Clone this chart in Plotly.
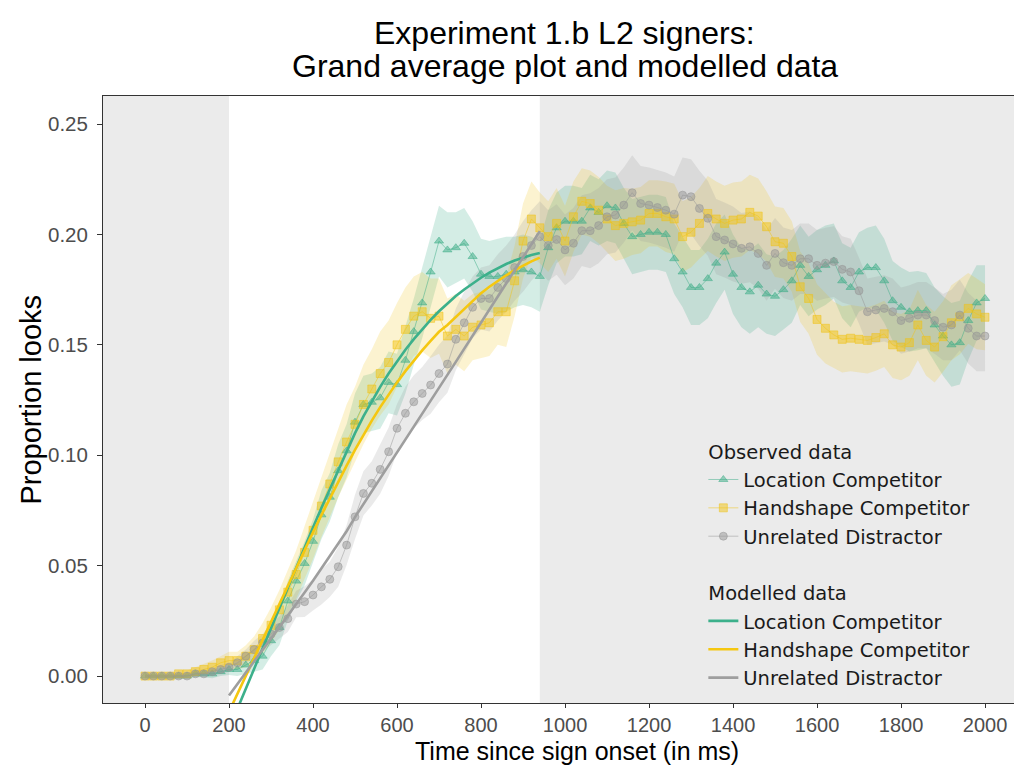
import plotly.graph_objects as go

# ---------------- data ----------------
time_ms = list(range(0, 2001, 20))

obs_location = [
    0.000, 0.000, 0.000, 0.000, 0.000, 0.000, 0.001, 0.001, 0.001, 0.002,
    0.003, 0.003, 0.005, 0.007, 0.009, 0.016, 0.022, 0.034, 0.043, 0.051,
    0.061, 0.073, 0.081, 0.093, 0.102, 0.115, 0.123, 0.124, 0.126, 0.133,
    0.132, 0.143, 0.156, 0.169, 0.183, 0.197, 0.193, 0.194, 0.196, 0.190,
    0.182, 0.181, 0.181, 0.182, 0.183, 0.184, 0.183, 0.181, 0.194, 0.203,
    0.206, 0.206, 0.206, 0.212, 0.210, 0.213, 0.212, 0.205, 0.199, 0.200,
    0.201, 0.201, 0.200, 0.189, 0.183, 0.176, 0.176, 0.180, 0.187, 0.192,
    0.182, 0.176, 0.174, 0.177, 0.173, 0.172, 0.175, 0.179, 0.186, 0.181,
    0.184, 0.186, 0.188, 0.179, 0.176, 0.183, 0.185, 0.185, 0.179, 0.170,
    0.167, 0.165, 0.1655, 0.1655, 0.159, 0.154, 0.150, 0.151, 0.161, 0.169,
    0.171,
]
obs_handshape = [
    0.000, 0.000, 0.000, 0.000, 0.001, 0.001, 0.002, 0.003, 0.004, 0.006,
    0.007, 0.007, 0.009, 0.012, 0.017, 0.023, 0.030, 0.038, 0.046, 0.056,
    0.066, 0.077, 0.087, 0.097, 0.106, 0.114, 0.123, 0.130, 0.137, 0.142,
    0.150, 0.157, 0.163, 0.165, 0.162, 0.163, 0.154, 0.157, 0.154, 0.158,
    0.159, 0.160, 0.165, 0.165, 0.179, 0.197, 0.207, 0.203, 0.199, 0.205,
    0.197, 0.208, 0.215, 0.214, 0.211, 0.207, 0.204, 0.205, 0.2057, 0.2065,
    0.2095, 0.2095, 0.208, 0.207, 0.199, 0.201, 0.205, 0.2095, 0.207, 0.205,
    0.2065, 0.207, 0.210, 0.2083, 0.2035, 0.1967, 0.196, 0.190, 0.1763, 0.171,
    0.1615, 0.1575, 0.1545, 0.1525, 0.153, 0.1525, 0.152, 0.1533, 0.155, 0.150,
    0.149, 0.151, 0.159, 0.152, 0.149, 0.1537, 0.160, 0.1627, 0.1665, 0.164,
    0.1625,
]
obs_unrelated = [
    0.000, 0.000, 0.000, 0.000, 0.000, 0.000, 0.001, 0.001, 0.002, 0.003,
    0.004, 0.006, 0.009, 0.012, 0.015, 0.019, 0.022, 0.026, 0.0326, 0.0337,
    0.0367, 0.0404, 0.0438, 0.0495, 0.0593, 0.0721, 0.0827, 0.0873, 0.0936, 0.1016,
    0.1122, 0.119, 0.1242, 0.128, 0.1318, 0.137, 0.1413, 0.1525, 0.160, 0.167,
    0.171, 0.171, 0.176, 0.180, 0.185, 0.190, 0.195, 0.199, 0.195, 0.1977,
    0.193, 0.196, 0.2017, 0.2017, 0.204, 0.208, 0.2088, 0.2133, 0.2189, 0.214,
    0.2133, 0.2122, 0.211, 0.2092, 0.2178, 0.2171, 0.2118, 0.2073, 0.199, 0.1975,
    0.1957, 0.1937, 0.1944, 0.1914, 0.186, 0.1914, 0.1872, 0.186, 0.189, 0.189,
    0.186, 0.187, 0.1877, 0.1842, 0.183, 0.1745, 0.165, 0.1658, 0.1665, 0.165,
    0.161, 0.162, 0.1635, 0.1635, 0.161, 0.158, 0.159, 0.1635, 0.1575, 0.154,
    0.154,
]

# half-widths of the confidence ribbons
ci_location = [
    0.001, 0.001, 0.001, 0.001, 0.001, 0.001, 0.0015, 0.0015, 0.002, 0.002,
    0.0025, 0.003, 0.004, 0.005, 0.006, 0.007, 0.008, 0.009, 0.009, 0.010,
    0.010, 0.011, 0.011, 0.012, 0.012, 0.013, 0.013, 0.013, 0.014, 0.014,
    0.014, 0.015, 0.015, 0.016, 0.016, 0.016, 0.017, 0.016, 0.016, 0.016,
    0.016, 0.016, 0.017, 0.017, 0.016, 0.016, 0.016, 0.016, 0.017, 0.016,
    0.016, 0.016, 0.015, 0.015, 0.015, 0.016, 0.016, 0.016, 0.017, 0.017,
    0.017, 0.017, 0.017, 0.016, 0.016, 0.017, 0.017, 0.018, 0.018, 0.017,
    0.018, 0.018, 0.019, 0.019, 0.018, 0.018, 0.018, 0.019, 0.018, 0.018,
    0.018, 0.018, 0.017, 0.017, 0.018, 0.018, 0.018, 0.019, 0.019, 0.018,
    0.018, 0.018, 0.018, 0.017, 0.017, 0.018, 0.019, 0.019, 0.018, 0.017,
    0.015,
]
ci_handshape = [
    0.001, 0.001, 0.001, 0.001, 0.0015, 0.0015, 0.002, 0.0025, 0.003, 0.003,
    0.004, 0.004, 0.005, 0.006, 0.007, 0.008, 0.009, 0.010, 0.011, 0.012,
    0.013, 0.014, 0.015, 0.016, 0.017, 0.017, 0.018, 0.018, 0.019, 0.019,
    0.019, 0.019, 0.018, 0.018, 0.018, 0.017, 0.017, 0.016, 0.016, 0.015,
    0.015, 0.015, 0.015, 0.016, 0.016, 0.017, 0.017, 0.016, 0.016, 0.016,
    0.016, 0.016, 0.015, 0.015, 0.015, 0.015, 0.016, 0.016, 0.015, 0.015,
    0.015, 0.015, 0.016, 0.016, 0.016, 0.016, 0.016, 0.017, 0.017, 0.017,
    0.017, 0.017, 0.017, 0.017, 0.016, 0.016, 0.016, 0.016, 0.016, 0.016,
    0.016, 0.016, 0.015, 0.015, 0.015, 0.015, 0.015, 0.015, 0.015, 0.015,
    0.015, 0.015, 0.016, 0.016, 0.016, 0.016, 0.017, 0.017, 0.016, 0.016,
    0.015,
]
ci_unrelated = [
    0.001, 0.001, 0.001, 0.001, 0.001, 0.001, 0.001, 0.001, 0.0015, 0.002,
    0.002, 0.003, 0.003, 0.004, 0.004, 0.005, 0.005, 0.006, 0.006, 0.007,
    0.007, 0.008, 0.008, 0.009, 0.009, 0.010, 0.010, 0.010, 0.011, 0.011,
    0.011, 0.012, 0.012, 0.012, 0.013, 0.013, 0.013, 0.014, 0.014, 0.014,
    0.014, 0.015, 0.015, 0.015, 0.015, 0.016, 0.016, 0.016, 0.016, 0.016,
    0.016, 0.016, 0.016, 0.017, 0.017, 0.017, 0.017, 0.017, 0.017, 0.017,
    0.017, 0.017, 0.017, 0.017, 0.017, 0.017, 0.017, 0.017, 0.017, 0.017,
    0.017, 0.016, 0.016, 0.016, 0.016, 0.016, 0.016, 0.016, 0.016, 0.016,
    0.016, 0.016, 0.016, 0.015, 0.015, 0.015, 0.015, 0.015, 0.015, 0.015,
    0.015, 0.015, 0.015, 0.015, 0.015, 0.015, 0.016, 0.016, 0.016, 0.016,
    0.016,
]

model_time = list(range(200, 941, 20))
model_location = [
    -0.0240, -0.0148, -0.0056, 0.0036, 0.0128, 0.0220, 0.0312, 0.0403, 0.0494, 0.0584,
    0.0673, 0.0761, 0.0847, 0.0931, 0.1012, 0.1100, 0.1176, 0.1245, 0.1310, 0.1370,
    0.1426, 0.1478, 0.1526, 0.1571, 0.1613, 0.1652, 0.1688, 0.1721, 0.1751, 0.1779,
    0.1804, 0.1827, 0.1848, 0.1866, 0.1882, 0.1896, 0.1907, 0.1916,
]
model_handshape = [
    -0.0162, -0.0080, 0.0002, 0.0084, 0.0166, 0.0248, 0.0330, 0.0411, 0.0492, 0.0572,
    0.0651, 0.0729, 0.0805, 0.0880, 0.0953, 0.1024, 0.1092, 0.1157, 0.1218, 0.1276,
    0.1330, 0.1381, 0.1429, 0.1475, 0.1518, 0.1559, 0.1590, 0.1625, 0.1660, 0.1695,
    0.1734, 0.1763, 0.1790, 0.1815, 0.1838, 0.1859, 0.1878, 0.1895,
]
model_unrelated = [
    -0.0088, -0.0035, 0.0017, 0.0068, 0.0119, 0.0170, 0.0221, 0.0273, 0.0325, 0.0378,
    0.0432, 0.0487, 0.0543, 0.0599, 0.0656, 0.0720, 0.0778, 0.0836, 0.0894, 0.0952,
    0.1010, 0.1069, 0.1128, 0.1187, 0.1246, 0.1305, 0.1364, 0.1423, 0.1482, 0.1541,
    0.1600, 0.1659, 0.1718, 0.1777, 0.1836, 0.1895, 0.1955, 0.2015,
]

series_names = ["Location Competitor", "Handshape Competitor", "Unrelated Distractor"]
window_start, window_end = 200, 940
x_ticks = list(range(0, 2001, 200))
y_ticks = [0.00, 0.05, 0.10, 0.15, 0.20, 0.25]

# ---------------- styling ----------------
FONT = "Liberation Sans, Arial, sans-serif"
LEG_FONT = "DejaVu Sans, sans-serif"
band_colors = ["rgba(61,174,136,0.22)", "rgba(242,195,20,0.20)", "rgba(150,150,150,0.20)"]
point_colors = ["rgba(61,174,136,0.5)", "rgba(242,195,20,0.5)", "rgba(150,150,150,0.5)"]
model_colors = ["#3cb08b", "#f5c710", "#9e9e9e"]
symbols = ["triangle-up", "square", "circle"]

obs = [obs_location, obs_handshape, obs_unrelated]
cis = [ci_location, ci_handshape, ci_unrelated]
models = [model_location, model_handshape, model_unrelated]

fig = go.Figure()

# ribbons
for i in range(3):
    upper = [v + h for v, h in zip(obs[i], cis[i])]
    lower = [v - h for v, h in zip(obs[i], cis[i])]
    fig.add_trace(go.Scatter(
        x=time_ms + time_ms[::-1], y=upper + lower[::-1],
        fill="toself", fillcolor=band_colors[i], line=dict(width=0),
        mode="lines", hoverinfo="skip", showlegend=False))

# observed points
for i in range(3):
    fig.add_trace(go.Scatter(
        x=time_ms, y=obs[i], mode="lines+markers", name=series_names[i],
        line=dict(color=point_colors[i], width=1),
        marker=dict(symbol=symbols[i], size=8, color=point_colors[i],
                    line=dict(width=1, color=point_colors[i])),
        legendgroup="obs",
        legendgrouptitle=dict(text="Observed data", font=dict(size=19.5, color="#1a1a1a", family=LEG_FONT)) if i == 0 else None,
    ))

# modelled lines
for i in range(3):
    fig.add_trace(go.Scatter(
        x=model_time, y=models[i], mode="lines", name=series_names[i],
        line=dict(color=model_colors[i], width=2.6),
        legendgroup="mod",
        legendgrouptitle=dict(text="Modelled data", font=dict(size=19.5, color="#1a1a1a", family=LEG_FONT)) if i == 0 else None,
    ))

# shaded regions outside analysis window
fig.add_shape(type="rect", xref="x", yref="paper", x0=-100, x1=window_start, y0=0, y1=1,
              fillcolor="#ebebeb", line=dict(width=0), layer="below")
fig.add_shape(type="rect", xref="x", yref="paper", x0=window_end, x1=2100, y0=0, y1=1,
              fillcolor="#ebebeb", line=dict(width=0), layer="below")

# title (two lines, tight spacing like the original)
fig.add_annotation(text="Experiment 1.b L2 signers:", xref="paper", yref="paper",
                   x=0.507, y=1.1038, yanchor="middle", showarrow=False,
                   font=dict(size=32, color="#000000", family=FONT))
fig.add_annotation(text="Grand average plot and modelled data", xref="paper", yref="paper",
                   x=0.507, y=1.0494, yanchor="middle", showarrow=False,
                   font=dict(size=32, color="#000000", family=FONT))
# axis titles
fig.add_annotation(text="Time since sign onset (in ms)", xref="paper", yref="paper",
                   x=0.52, y=-0.0799, yanchor="middle", showarrow=False,
                   font=dict(size=25, color="#000000", family=FONT))
fig.add_annotation(text="Proportion looks", xref="paper", yref="paper",
                   x=-0.0801, y=0.5, xanchor="center", yanchor="middle", textangle=-90,
                   showarrow=False, font=dict(size=29, color="#000000", family=FONT))

fig.update_layout(
    width=1014, height=767,
    margin=dict(l=103, r=0, t=96, b=64),
    paper_bgcolor="white", plot_bgcolor="white",
    font=dict(family=FONT, color="#1a1a1a"),
    showlegend=True,
    legend=dict(x=0.659, y=0.4465, xanchor="left", yanchor="top",
                bgcolor="rgba(0,0,0,0)", font=dict(size=19.5, color="#1a1a1a", family=LEG_FONT),
                tracegroupgap=28, itemwidth=30),
    xaxis=dict(range=[-100, 2069], tickvals=x_ticks, ticks="outside", ticklen=4,
               tickcolor="#333333", showgrid=False, zeroline=False,
               showline=True, linecolor="#333333", linewidth=1, mirror=True,
               tickfont=dict(size=20, color="#4d4d4d", family=FONT)),
    yaxis=dict(range=[-0.0122, 0.2627], tickvals=y_ticks, tickformat=".2f",
               ticks="outside", ticklen=5, tickcolor="#333333", ticklabelstandoff=5,
               showgrid=False, zeroline=False, showline=True, linecolor="#333333",
               linewidth=1, tickfont=dict(size=20.5, color="#4d4d4d", family=FONT)),
)

fig.write_html("out.html")
